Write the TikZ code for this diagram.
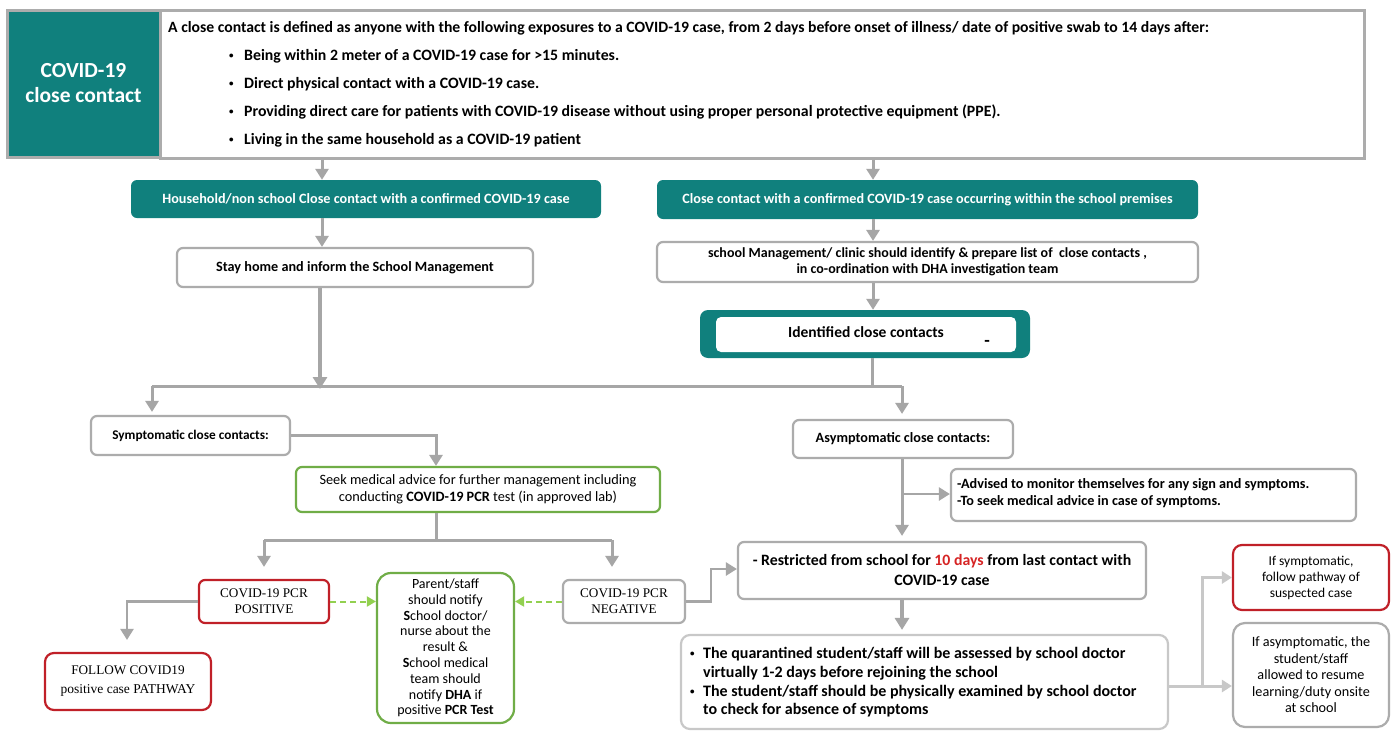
\documentclass[tikz,border=0pt]{standalone}
\usepackage{fontspec}
\setmainfont{Carlito}
\newfontfamily\timesf{Liberation Serif}
\usetikzlibrary{arrows.meta,calc}
\definecolor{teal1}{RGB}{16,128,125}
\definecolor{gline}{RGB}{166,166,166}
\definecolor{gbox}{RGB}{172,172,172}
\definecolor{lgline}{RGB}{200,200,200}
\definecolor{redb}{RGB}{192,32,40}
\definecolor{greenb}{RGB}{112,173,71}
\definecolor{greend}{RGB}{146,208,80}
\definecolor{tred}{RGB}{214,36,36}
\begin{document}
\begin{tikzpicture}[x=1pt,y=-1pt,
  box/.style={draw=gbox, line width=2.2pt, rounded corners=6pt, fill=white, align=center, inner sep=0pt, text=black},
  redbox/.style={box, draw=redb},
  greenbox/.style={box, draw=greenb},
  tbox/.style={fill=teal1, rounded corners=6pt, text=white, align=center, inner sep=0pt, font=\bfseries\fontsize{14.2}{16}\selectfont},
  fb/.style={font=\bfseries\fontsize{#1}{#1}\selectfont},
  arr/.style={draw=gline, line width=3pt, -{Triangle[width=13pt,length=11pt]}},
  thickarr/.style={draw=gline, line width=4pt, -{Triangle[width=14pt,length=12pt]}},
  larr/.style={draw=lgline, line width=3pt, -{Triangle[width=12pt,length=10pt]}},
  ln/.style={draw=gline, line width=3pt},
  lln/.style={draw=lgline, line width=3pt},
  darr/.style={draw=greend, line width=2pt, dashed, dash pattern=on 6pt off 4pt, -{Triangle[width=10pt,length=9pt]}},
  txt/.style={anchor=west, inner sep=0pt, text=black}
]
\useasboundingbox (0,0) rectangle (1396,731);
\fill[white] (0,0) rectangle (1396,731);

% ---- top definition
\node[draw=gbox, line width=3pt, fill=white, minimum width=1204pt, minimum height=148pt, inner sep=0pt] (def) at (762,84) {};
\node[draw=gbox, line width=3pt, fill=teal1, minimum width=153pt, minimum height=147pt, inner sep=0pt, text=white, align=center,
      font=\bfseries\fontsize{21.5}{25}\selectfont] (title) at (83.5,83.5) {COVID-19\\close contact};
\node[txt, fb=15.7] (l0) at (168,28) {A close contact is defined as anyone with the following exposures to a COVID-19 case, from 2 days before onset of illness/ date of positive swab to 14 days after:};
\foreach \yy/\tt [count=\i] in {56/{Being within 2 meter of a COVID-19 case for >15 minutes.},
  84/{Direct physical contact with a COVID-19 case.},
  112/{Providing direct care for patients with COVID-19 disease without using proper personal protective equipment (PPE).},
  140/{Living in the same household as a COVID-19 patient}}{
  \node[txt, fb=9] (b\i) at (229,\yy) {\textbullet};
  \node[txt, fb=15.8] (l\i) at (244,\yy) {\tt};
}

% ---- teal headers
\node[tbox, minimum width=470pt, minimum height=38pt] (hh) at (366,199) {Household/non school Close contact with a confirmed COVID-19 case};
\node[tbox, minimum width=541pt, minimum height=39pt] (sc) at (927.5,199.5) {Close contact with a confirmed COVID-19 case occurring within the school premises};

\node[box, minimum width=356pt, minimum height=39pt, fb=14.2] (stay) at (355,267.5) {Stay home and inform the School Management};
\node[box, minimum width=541pt, minimum height=40pt, font=\bfseries\fontsize{14}{16}\selectfont] (mgmt) at (927.5,262) {school Management/ clinic should identify \& prepare list of\ \ close contacts ,\\in co-ordination with DHA investigation team};

\node[fill=teal1, rounded corners=8pt, minimum width=330pt, minimum height=48pt, inner sep=0pt] (ident) at (865,334) {};
\node[fill=white, rounded corners=5pt, minimum width=300pt, minimum height=35pt, inner sep=0pt] (identin) at (866,334.5) {};
\node[inner sep=0pt, fb=15.5] (identt) at (866,332) {Identified close contacts};
\node[inner sep=0pt, fb=18] (dash) at (987,343) {-};

% ---- symptomatic branch
\node[box, minimum width=199pt, minimum height=39pt, fb=13.3] (sym) at (190.5,435.5) {Symptomatic close contacts:};
\node[greenbox, minimum width=364pt, minimum height=45pt, font=\fontsize{14.3}{17}\selectfont] (seek) at (478,489.5) {Seek medical advice for further management including\\conducting \textbf{COVID-19 PCR} test (in approved lab)};

\node[redbox, minimum width=130pt, minimum height=43pt, font=\timesf\fontsize{13.2}{16}\selectfont] (pos) at (264,601.5) {COVID-19 PCR\\POSITIVE};
\node[box, minimum width=122pt, minimum height=43pt, font=\timesf\fontsize{13.2}{16}\selectfont] (neg) at (624,601.5) {COVID-19 PCR\\NEGATIVE};
\node[greenbox, rounded corners=14pt, minimum width=137pt, minimum height=150pt, font=\fontsize{14}{15.8}\selectfont] (parent) at (445.5,648)
  {Parent/staff\\should notify\\\textbf{S}chool doctor/\\nurse about the\\result \&\\\textbf{S}chool medical\\team should\\notify \textbf{DHA} if\\positive \textbf{PCR Test}};
\node[redbox, rounded corners=9pt, minimum width=166pt, minimum height=57pt, font=\timesf\fontsize{13.2}{19}\selectfont] (follow) at (128,681.5) {FOLLOW COVID19\\{\fontsize{13.5}{19}\selectfont positive case PATHWAY}};

% ---- asymptomatic branch
\node[box, minimum width=220pt, minimum height=38pt, fb=14.2] (asym) at (903,439) {Asymptomatic close contacts:};
\node[box, minimum width=405pt, minimum height=52pt] (adv) at (1153.5,495) {};
\node[txt, fb=14.2] (adv1) at (957,485) {-Advised to monitor themselves for any sign and symptoms.};
\node[txt, fb=14.2] (adv2) at (957,502) {-To seek medical advice in case of symptoms.};

\node[box, minimum width=408pt, minimum height=57pt, font=\bfseries\fontsize{15.8}{20}\selectfont] (restr) at (942,570.5) {- Restricted from school for \textcolor{tred}{10 days} from last contact with\\COVID-19 case};

\node[box, draw=lgline, rounded corners=9pt, minimum width=487pt, minimum height=94pt] (quar) at (924.5,682) {};
\node[txt, fb=9] (q0) at (690,654) {\textbullet};
\node[txt, fb=16] (q1) at (703,654) {The quarantined student/staff will be assessed by school doctor};
\node[txt, fb=16] (q2) at (703,673) {virtually 1-2 days before rejoining the school};
\node[txt, fb=9] (q3) at (690,692) {\textbullet};
\node[txt, fb=16] (q4) at (703,692) {The student/staff should be physically examined by school doctor};
\node[txt, fb=16] (q5) at (703,710) {to check for absence of symptoms};

\node[redbox, rounded corners=9pt, minimum width=156pt, minimum height=65pt, font=\fontsize{13.5}{16}\selectfont] (ifsym) at (1311,577.5) {If symptomatic,\\follow pathway of\\suspected case};
\node[box, rounded corners=12pt, minimum width=156pt, minimum height=104pt, font=\fontsize{14.2}{16.5}\selectfont] (ifasym) at (1311,675) {If asymptomatic, the\\student/staff\\allowed to resume\\learning/duty onsite\\at school};

% ---- junction coordinates
\coordinate (xL) at (322,0);
\coordinate (xR) at (873,0);
\coordinate (busL) at (152,386);
\coordinate (busR) at (902,386);
\coordinate (busS) at (320,386);
\coordinate (busI) at (872,386);
\coordinate (symT) at (436,435.5);
\coordinate (pcrJ) at (436,540);
\coordinate (pcrL) at (264,540);
\coordinate (pcrR) at (612,540);
\coordinate (posT) at (127,601.5);
\coordinate (negA) at (711,601.5);
\coordinate (negB) at (711,569);
\coordinate (advJ) at (902,494);
\coordinate (qJ) at (1202,686);

% ---- connectors
\draw[arr] (xL |- def.south) -- (xL |- hh.north);
\draw[arr] (xR |- def.south) -- (xR |- sc.north);
\draw[arr] (xL |- hh.south) -- (xL |- stay.north);
\draw[arr] (xR |- sc.south) -- (xR |- mgmt.north);
\draw[arr] (xR |- mgmt.south) -- (xR |- ident.north);
\draw[thickarr] (stay.south -| busS) -- ([yshift=-3pt]busS);
\draw[ln] (ident.south -| busI) -- (busI);
\draw[ln] (busL) -- (busR);
\draw[arr, shorten >=3pt] (busL) -- (sym.north -| busL);
\draw[arr, shorten >=5pt] (busR) -- (asym.north -| busR);
\draw[arr] (sym.east) -- (symT) -- (seek.north -| symT);
\draw[ln] (seek.south -| pcrJ) -- (pcrJ);
\draw[ln] (pcrL) -- (pcrR);
\draw[arr, shorten >=12pt] (pcrL) -- (pos.north -| pcrL);
\draw[arr, shorten >=12pt] (pcrR) -- (neg.north -| pcrR);
\draw[darr] (pos.east) -- (parent.west |- pos.east);
\draw[darr] (neg.west) -- (parent.east |- neg.west);
\draw[arr, line width=2.5pt, shorten >=12pt] (pos.west) -- (posT) -- (follow.north -| posT);
\draw[arr, line width=2.5pt] (neg.east) -- (negA) -- (negB) -- (restr.west |- negB);
\draw[arr, shorten >=5pt] (asym.south -| advJ) -- (restr.north -| advJ);
\draw[arr, line width=2.5pt] (advJ) -- (adv.west |- advJ);
\draw[thickarr, shorten >=4pt] (restr.south -| advJ) -- (quar.north -| advJ);
\draw[lln] (quar.east |- qJ) -- (qJ);
\draw[larr] (qJ) -- (ifasym.west |- qJ);
\draw[larr] (qJ) |- (ifsym.west);
\end{tikzpicture}
\end{document}
